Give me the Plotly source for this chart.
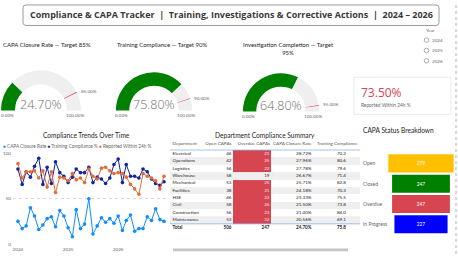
import plotly.graph_objects as go
import pandas as pd
import math

W, H = 458, 257
def px(x): return x / W
def py(y): return 1 - y / H

FONT = "Open Sans"
SMALL = "Lato"

# ---------------- data ----------------
gauge_titles = ["CAPA Closure Rate — Target 85%",
                "Training Compliance — Target 90%",
                "Investigation Completion — Target<br>95%"]
gauge_values = [24.70, 75.80, 64.80]
gauge_targets = [85.0, 90.0, 95.0]
gauge_min, gauge_max = 0.0, 100.0

kpi_value = 73.50
kpi_label = "Reported Within 24h %"

years = ["2024", "2025", "2026"]

months = pd.date_range("2024-01-01", periods=36, freq="MS")
capa_closure = [25, 17, 20, 40, 31, 16, 21, 28, 30, 19, 37, 31, 18, 8, 38, 17, 22, 50,
                11, 20, 29, 24, 28, 23, 31, 15, 26, 32, 14, 17, 17, 30, 26, 39, 27, 25]
training_pct = [83, 66, 80, 74, 86, 95, 66, 85, 67, 91, 79, 75, 68, 74, 83, 79, 79, 85,
                68, 74, 72, 67, 73, 88, 94, 68, 88, 75, 75, 73, 83, 80, 72, 67, 65, 69]
reported_24h = [89, 73, 80, 80, 81, 73, 81, 63, 80, 57, 74, 73, 70, 78, 71, 73, 68, 83,
                75, 72, 84, 85, 81, 78, 79, 78, 74, 66, 61, 55, 78, 75, 73, 70, 61, 75]
series_names = ["CAPA Closure Rate", "Training Compliance %", "Reported Within 24h %"]

departments = ["Electrical", "Operations", "Logistics", "Warehouse", "Mechanical",
               "Facilities", "HSE", "Civil", "Construction", "Maintenance"]
open_capas = [46, 42, 56, 58, 53, 38, 46, 58, 56, 53]
overdue_capas = [21, 25, 22, 19, 25, 31, 22, 26, 23, 32]
closure_rate = [28.72, 27.96, 27.78, 26.67, 25.71, 24.18, 23.33, 21.50, 21.00, 20.56]
training_comp = [70.2, 80.6, 79.6, 71.4, 82.8, 70.3, 75.5, 73.8, 84.0, 69.1]
total_open, total_overdue, total_rate, total_training = 506, 247, 24.70, 75.8
table_headers = ["Department", "Open CAPAs", "Overdue CAPAs", "CAPA Closure Rate", "Training Compliance"]
overdue_threshold = 20

status_labels = ["Open", "Closed", "Overdue", "In Progress"]
status_values = [279, 247, 247, 227]

# ---------------- styles ----------------
GREEN = "#008000"
RING = "#EFEFEF"
TARGET = "#E0525C"
RED = "#D64550"
C_CAPA, C_TRAIN, C_REP = "#118DFF", "#12239E", "#E66C37"
status_colors = ["#FFC000", "#008000", "#D64550", "#0000FF"]
TXT = "#252423"
GREY = "#666666"
TBL = 4.6

fig = go.Figure()
annotations = []
shapes = []

def ann(x, y, text, size=5, color=TXT, xanchor="left", yanchor="middle", family=SMALL, **kw):
    d = dict(x=x, y=y, text=text, showarrow=False, xanchor=xanchor, yanchor=yanchor,
             font=dict(family=family, size=size, color=color), xref="paper", yref="paper")
    d.update(kw)
    annotations.append(d)

# ---------------- title ----------------
x0, x1, y0, y1, rr = px(23), px(439), py(23), py(2), 3
rx, ry = rr / W, rr / H
path = (f"M {x0+rx},{y1} L {x1-rx},{y1} Q {x1},{y1} {x1},{y1-ry} L {x1},{y0+ry} "
        f"Q {x1},{y0} {x1-rx},{y0} L {x0+rx},{y0} Q {x0},{y0} {x0},{y0+ry} "
        f"L {x0},{y1-ry} Q {x0},{y1} {x0+rx},{y1} Z")
shapes.append(dict(type="path", path=path, xref="paper", yref="paper",
                   line=dict(color="#9A9A9A", width=1), fillcolor="white"))
ann(px(231), py(12.2), "<b>Compliance &amp; CAPA Tracker  |  Training, Investigations &amp; Corrective Actions  |  2024 – 2026</b>",
    size=9, color="#3A3A3A", xanchor="center", family=FONT)

# right dotted divider
shapes.append(dict(type="line", x0=px(456), x1=px(456), y0=0, y1=1, xref="paper", yref="paper",
                   line=dict(color="#B0B0B0", width=1, dash="dot")))

# ---------------- year slicer ----------------
ann(px(424), py(27.5), "Year", size=4.6, color=GREY)
for i, yv in enumerate(years):
    cy = 38 + 10.6 * i
    shapes.append(dict(type="circle", xref="paper", yref="paper",
                       x0=px(424.2), x1=px(428.8), y0=py(cy + 2.3), y1=py(cy - 2.3),
                       line=dict(color="#8A8A8A", width=0.7)))
    ann(px(430), py(cy), yv, size=4.6, color=GREY)

# ---------------- gauges ----------------
geo = [(41, 110, 41), (154, 110, 39), (281, 111, 39)]
title_pos = [(1, 43), (115, 43), (241, 46.5)]
for (cx, cy, r), v, t, ttl, (tx, ty) in zip(geo, gauge_values, gauge_targets, gauge_titles, title_pos):
    tw = 0.8
    vals = [v - gauge_min, t - v - tw / 2, tw, gauge_max - t - tw / 2, gauge_max - gauge_min]
    fig.add_trace(go.Pie(values=vals, hole=0.65, rotation=-90, direction="clockwise", sort=False,
                         marker=dict(colors=[GREEN, RING, TARGET, RING, "rgba(0,0,0,0)"],
                                     line=dict(width=0)),
                         textinfo="none", hoverinfo="skip", showlegend=False,
                         domain=dict(x=[px(cx - r), px(cx + r)], y=[py(cy + r), py(cy - r)])))
    ann(px(tx), py(ty), ttl, size=6.0, color=TXT)
    annotations.append(dict(x=px(cx), y=py(cy - 6.5), text=f"{v:.2f}%", showarrow=False,
                            xanchor="center", yanchor="middle", xref="paper", yref="paper",
                            font=dict(family=FONT, size=12.5, color="#707070", weight=300)))
    band = r * (1 - 0.65) / 2
    ann(px(cx - r + band), py(cy + 5), f"{gauge_min:.2f}%", size=4.6, color=GREY, xanchor="center")
    ann(px(cx + r - band), py(cy + 5), f"{gauge_max:.2f}%", size=4.6, color=GREY, xanchor="center")
    th = math.radians(180 - 180 * (t - gauge_min) / (gauge_max - gauge_min))
    ann(px(cx + r * math.cos(th) + 1), py(cy - r * math.sin(th) - 1), f"{t:.2f}%", size=4.6, color=GREY)

# ---------------- KPI card ----------------
shapes.append(dict(type="rect", xref="paper", yref="paper", x0=px(354), x1=px(451), y0=py(114), y1=py(76),
                   line=dict(color="#E6E6E6", width=0.8)))
annotations.append(dict(x=px(358.5), y=py(92), text=f"{kpi_value:.2f}%", showarrow=False,
                        xanchor="left", yanchor="middle", xref="paper", yref="paper",
                        font=dict(family=FONT, size=12, color=RED)))
ann(px(359), py(104), kpi_label, size=4.8, color=GREY)

# ---------------- line chart ----------------
for vals, name, col in zip([capa_closure, training_pct, reported_24h], series_names, [C_CAPA, C_TRAIN, C_REP]):
    fig.add_trace(go.Scatter(x=months, y=vals, name=name, mode="lines+markers",
                             line=dict(color=col, width=1), marker=dict(size=3.6, color=col),
                             showlegend=False, cliponaxis=False, xaxis="x", yaxis="y"))
ann(px(86), py(135), "Compliance Trends Over Time", size=6.6, color=TXT, xanchor="center")
leg = " ".join(f"<span style='color:{c}'>●</span> {n}" for n, c in zip(series_names, [C_CAPA, C_TRAIN, C_REP]))
ann(px(1), py(146), leg, size=4.7, color=GREY)

# ---------------- table ----------------
col_edges = [170, 203, 233, 270.5, 314, 360]
z = []
for i, od in enumerate(overdue_capas):
    row = []
    for j in range(5):
        if j == 2 and od > overdue_threshold:
            row.append(2)
        else:
            row.append(1 if i % 2 == 1 else 0)
    z.append(row)
fig.add_trace(go.Heatmap(z=z, x=col_edges, y=[i - 0.5 for i in range(len(departments) + 1)],
                         colorscale=[[0, "#FFFFFF"], [0.33, "#FFFFFF"], [0.33, "#EFEFEF"], [0.67, "#EFEFEF"],
                                     [0.67, RED], [1, RED]],
                         zmin=0, zmax=2, showscale=False, hoverinfo="skip", xaxis="x2", yaxis="y2"))
rows = list(range(len(departments)))
total_y = 10.0
header_y = -1.36
cols = [
    ([*departments, "<b>Total</b>"], 172.5, "middle right"),
    ([*[str(v) for v in open_capas], f"<b>{total_open}</b>"], 231.5, "middle left"),
    ([*[str(v) for v in overdue_capas], f"<b>{total_overdue}</b>"], 269.5, "middle left"),
    ([*[f"{v:.2f}%" for v in closure_rate], f"<b>{total_rate:.2f}%</b>"], 311.5, "middle left"),
    ([*[f"{v:.1f}" for v in training_comp], f"<b>{total_training:.1f}</b>"], 346, "middle left"),
]
for j, (texts, xe, pos) in enumerate(cols):
    colors = []
    for i in range(len(texts)):
        if j == 2 and i < len(overdue_capas) and overdue_capas[i] > overdue_threshold:
            colors.append("#FBE3E5")
        else:
            colors.append(TXT)
    fig.add_trace(go.Scatter(x=[xe] * len(texts), y=rows + [total_y], text=texts, mode="text",
                             textposition=pos, textfont=dict(family=SMALL, size=TBL, color=colors),
                             hoverinfo="skip", showlegend=False, cliponaxis=True, xaxis="x2", yaxis="y2"))
hdr_x = [172.5, 231.5, 270, 311.5, 317]
hdr_pos = ["middle right", "middle left", "middle left", "middle left", "middle right"]
for h, xe, pos in zip(table_headers, hdr_x, hdr_pos):
    fig.add_trace(go.Scatter(x=[xe], y=[header_y], text=[h], mode="text", textposition=pos,
                             textfont=dict(family=SMALL, size=TBL, color="#555555"),
                             hoverinfo="skip", showlegend=False, cliponaxis=True, xaxis="x2", yaxis="y2"))
for yl in [-0.5, 9.5]:
    shapes.append(dict(type="line", xref="x2", yref="y2", x0=170, x1=360, y0=yl, y1=yl,
                       line=dict(color="#8DB8E8", width=0.8)))
ann(px(265), py(135), "Department Compliance Summary", size=6.6, color=TXT, xanchor="center")
shapes.append(dict(type="rect", xref="paper", yref="paper", x0=px(173), x1=px(348), y0=py(254.2), y1=py(251.4),
                   line=dict(width=0), fillcolor="#C4C4C4"))

# ---------------- funnel ----------------
fig.add_trace(go.Funnel(y=status_labels, x=status_values, marker=dict(color=status_colors),
                        textinfo="value", textposition="inside", insidetextanchor="middle",
                        textfont=dict(family=SMALL, size=4.8, color="white"),
                        connector=dict(visible=False), hoverinfo="skip", showlegend=False,
                        xaxis="x3", yaxis="y3"))
for lab in status_labels:
    annotations.append(dict(x=px(361), y=lab, xref="paper", yref="y3", text=lab, showarrow=False,
                            xanchor="left", yanchor="middle", font=dict(family=SMALL, size=5, color=GREY)))
ann(px(361), py(130), "CAPA Status Breakdown", size=6.6, color=TXT)

fig.update_layout(
    width=W, height=H, margin=dict(l=0, r=0, t=0, b=0),
    paper_bgcolor="white", plot_bgcolor="rgba(0,0,0,0)",
    font=dict(family=SMALL, color=TXT),
    showlegend=False, funnelgap=0.11,
    annotations=annotations, shapes=shapes,
    xaxis=dict(domain=[px(13), px(167)], range=["2023-11-26", "2026-12-23"], type="date",
               tickvals=[pd.Timestamp(f"{y}-01-01") for y in years], ticktext=years,
               showgrid=False, zeroline=False, showline=False, ticks="",
               tickfont=dict(size=4.6, color=GREY), ticklabelstandoff=1),
    yaxis=dict(domain=[py(246.7), py(154.3)], range=[0, 100], tickvals=[0, 50, 100], ticksuffix="%",
               showgrid=True, gridcolor="#D8D8D8", griddash="dot", gridwidth=0.8, zeroline=False,
               tickfont=dict(size=4.6, color=GREY), ticks="", ticklabelstandoff=1),
    xaxis2=dict(domain=[px(170), px(360)], range=[170, 360], visible=False, anchor="y2"),
    yaxis2=dict(domain=[py(235.9), py(137.7)], range=[10.8, -2.2], visible=False, anchor="x2"),
    xaxis3=dict(domain=[px(386), px(456)], range=[-149.5, 149.5], visible=False, anchor="y3"),
    yaxis3=dict(domain=[py(237), py(153.8)], range=[3.5, -0.5], type="category", visible=False, anchor="x3"),
)

fig.write_html("out.html")
